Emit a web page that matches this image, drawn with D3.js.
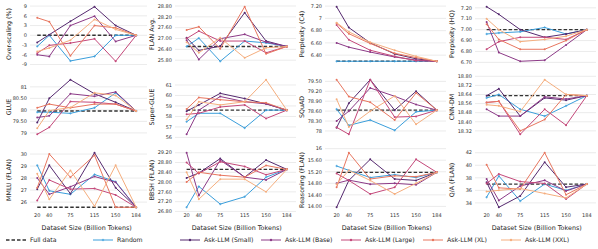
<!DOCTYPE html>
<html><head><meta charset="utf-8">
<script src="https://cdn.jsdelivr.net/npm/d3@7"></script>
<style>body{margin:0;background:#fff}svg{display:block;font-family:"DejaVu Sans",sans-serif}</style>
</head><body><svg id="c" width="598" height="249"></svg>
<script>
const sizes = [20, 40, 75, 115, 150, 184];
const metricLabels = ["Over-scaling (%)","FLAN Avg.","Perplexity (C4)","Perplexity (HQ)","GLUE","Super-GLUE","SQuAD","CNN-DM","MMLU (FLAN)","BBSH (FLAN)","Reasoning (FLAN)","Q/A (FLAN)"];
const tickLabels = [
  ["-9","-6","-3","0","3","6","9"],
  ["25.80","26.40","27.00","27.60","28.20","28.80"],
  ["6.20","6.40","6.60","6.80","7","7.20"],
  ["6.70","6.80","6.90","7.00","7.10","7.20"],
  ["79","79.50","80","80.50","81","81.50"],
  ["56","57","58","59","60","61"],
  ["77.70","78","78.30","78.60","78.90","79.20","79.50"],
  ["18.32","18.40","18.48","18.56","18.64","18.72","18.80"],
  ["26","27","28","29","30"],
  ["26.80","27.20","27.60","28.00","28.40","28.80","29.20"],
  ["14.00","14.40","14.80","15.20","15.60","16"],
  ["34","36","38","40","42"]
];
const xTickLabels = ["20","40","75","115","150","184"];
const seriesNames = ["Full data","Random","Ask-LLM (Small)","Ask-LLM (Base)","Ask-LLM (Large)","Ask-LLM (XL)","Ask-LLM (XXL)"];
const fullData = [0, 26.56, 6.30, 7.0, 79.95, 58.6, 78.63, 18.63, 25.57, 28.52, 15.18, 37.0];
const randomVals = [
  [-3.4, 0, -7.9, -6.5, 0, 0],
  [26.56, 27.02, 25.74, 26.86, 26.76, 26.56],
  [6.30, 6.30, 6.30, 6.30, 6.30, 6.30],
  [6.96, 6.97, 6.98, 7.02, 6.96, 7.0],
  [79.9, 79.9, 79.85, 80.09, 80.74, 79.95],
  [57.5, 58.3, 58.3, 56.9, 58.6, 58.6],
  [78.66, 78.17, 78.33, 78.02, 78.58, 78.63],
  [18.61, 18.64, 18.51, 18.45, 18.54, 18.63],
  [29.06, 26.94, 26.65, 28.3, 27.7, 25.57],
  [26.97, 27.82, 27.1, 27.4, 28.2, 28.52],
  [15.4, 15.25, 15.0, 15.1, 15.0, 15.18],
  [34.9, 38.3, 34.3, 37.0, 36.0, 37.0]
];
const smallVals = [
  [-2.2, 0.2, 4.3, 8.8, 3.0, 0],
  [27.04, 26.34, 26.58, 28.43, 26.86, 26.56],
  [7.19, 6.85, 6.60, 6.42, 6.34, 6.30],
  [7.21, 7.14, 7.0, 6.93, 6.96, 7.0],
  [79.45, 80.5, 81.31, 80.7, 80.33, 79.95],
  [58.5, 59.1, 60.2, 59.7, 59.2, 58.6],
  [78.1, 78.84, 79.55, 78.63, 79.2, 78.63],
  [18.63, 18.69, 18.45, 18.61, 18.59, 18.63],
  [27.08, 29.06, 26.7, 30.11, 27.2, 25.57],
  [28.17, 28.37, 28.96, 28.2, 28.9, 28.52],
  [13.97, 14.9, 15.63, 14.95, 14.9, 15.18],
  [37.3, 33.3, 35.1, 40.5, 36.5, 37.0]
];
const baseVals = [
  [-6, -6.5, 3, 5.9, -1.9, 0],
  [26.91, 25.84, 26.99, 27.23, 26.8, 26.56],
  [6.60, 6.53, 6.45, 6.37, 6.32, 6.30],
  [7.07, 6.79, 6.71, 6.72, 6.86, 7.0],
  [79.67, 79.74, 80.7, 80.59, 80.78, 79.95],
  [56.3, 58.6, 59.9, 59.4, 59.2, 58.6],
  [78.3, 78.6, 79.3, 79.05, 78.8, 78.63],
  [18.51, 18.45, 18.45, 18.62, 18.6, 18.63],
  [28.0, 26.65, 27.28, 28.13, 27.65, 25.57],
  [29.2, 27.45, 28.9, 28.2, 28.09, 28.52],
  [14.8, 14.91, 14.77, 14.8, 14.75, 15.18],
  [37.8, 34.4, 36.7, 37.6, 35.9, 37.0]
];
const largeVals = [
  [-5.5, -3.1, -2.4, -1.1, -8, 0],
  [27.0, 27.41, 26.86, 26.86, 26.21, 26.56],
  [6.89, 6.65, 6.48, 6.38, 6.31, 6.30],
  [6.82, 6.89, 6.93, 6.93, 6.91, 7.0],
  [78.94, 79.24, 80.36, 80.33, 80.25, 79.95],
  [58.2, 58.3, 58.9, 59.1, 57.8, 58.6],
  [78.11, 77.9, 79.55, 78.42, 78.44, 78.63],
  [18.57, 18.58, 18.29, 18.51, 18.37, 18.63],
  [26.14, 27.84, 27.08, 27.13, 26.6, 25.57],
  [28.8, 28.35, 28.83, 28.64, 28.3, 28.52],
  [15.14, 14.9, 14.43, 14.66, 15.63, 15.18],
  [37.1, 38.6, 37.4, 37.1, 34.6, 37.0]
];
const xlVals = [
  [5.4, 4.2, -6.3, 3, 2.3, 0],
  [27.47, 27.65, 26.43, 28.76, 26.15, 26.56],
  [6.92, 6.75, 6.59, 6.43, 6.36, 6.30],
  [7.05, 6.91, 6.82, 6.82, 6.9, 7.0],
  [80.09, 80.25, 80.09, 80.25, 80.25, 79.95],
  [58.7, 59.8, 59.6, 59.4, 59.3, 58.6],
  [79.55, 79.04, 78.87, 78.33, 79.15, 78.63],
  [18.57, 18.58, 18.32, 18.42, 18.64, 18.63],
  [27.2, 30.0, 28.07, 29.9, 25.57, 25.57],
  [28.0, 28.4, 28.28, 28.2, 28.68, 28.52],
  [14.66, 15.86, 14.95, 15.06, 15.03, 15.18],
  [40.1, 36.4, 36.2, 42, 35.3, 37.0]
];
const xxlVals = [
  [-5, -3.9, -1.5, 4.9, 1.8, 0],
  [26.8, 26.21, 27.04, 25.93, 26.49, 26.56],
  [6.93, 6.78, 6.61, 6.48, 6.38, 6.30],
  [7.1, 7.0, 6.89, 6.91, 6.94, 7.0],
  [79.2, 79.97, 80.1, 80.74, 80.63, 79.95],
  [57.7, 59.4, 59.1, 59.4, 61.5, 58.6],
  [78.96, 78.12, 78.6, 79.06, 78.2, 78.63],
  [18.55, 18.54, 18.49, 18.77, 18.64, 18.63],
  [28.35, 26.23, 28.64, 25.66, 29.06, 25.57],
  [28.4, 27.3, 28.12, 28.12, 27.6, 28.52],
  [14.77, 15.25, 14.9, 14.43, 14.8, 15.18],
  [35.8, 36.0, 36.3, 35.5, 34.8, 37.0]
];

// ---- styling / layout ----
const askColors = ["#55296f", "#8c3a87", "#c4487a", "#e8765f", "#f5ae7e"];
const randomColor = "#3a9edb";
const fullColor = "#333333";
const colLeft = [30, 175, 325, 475];
const colW = [117, 121, 121, 121];
const colXDomain = [[8, 202], [1, 199], [1, 199], [1, 199]];
const rowTop = [4, 77, 150];
const plotH = 60;

const svg = d3.select("#c");
const askSeries = [smallVals, baseVals, largeVals, xlVals, xxlVals];

for (let p = 0; p < 12; p++) {
  const r = Math.floor(p / 4), c = p % 4;
  const plotW = colW[c];
  const g = svg.append("g").attr("transform", `translate(${colLeft[c]},${rowTop[r]})`);
  const all = [fullData[p], ...randomVals[p], ...askSeries.flatMap(s => s[p])];
  const lo = d3.min(all), hi = d3.max(all), pad = (hi - lo) * 0.05;
  const y = d3.scaleLinear().domain([lo - pad, hi + pad]).range([plotH, 0]);
  const x = d3.scaleLinear().domain(colXDomain[c]).range([0, plotW]);
  const tol = (hi - lo) * 0.03;
  const ticks = tickLabels[p].map(t => ({v: +t, t})).filter(d => d.v >= lo - pad - tol && d.v <= hi + pad + tol);
  g.selectAll(".grid").data(ticks).join("line")
    .attr("x1", 0).attr("x2", plotW)
    .attr("y1", d => y(d.v)).attr("y2", d => y(d.v))
    .attr("stroke", "#e6e6e6").attr("stroke-width", 0.8);
  g.selectAll(".yt").data(ticks).join("text")
    .attr("x", -3).attr("y", d => y(d.v)).attr("dy", "0.35em")
    .attr("text-anchor", "end").attr("font-size", 5).attr("fill", "#333")
    .text(d => d.t);
  const ylx = c === 0 ? -19 : -21;
  g.append("text").attr("transform", `translate(${ylx},${plotH/2}) rotate(-90)`)
    .attr("text-anchor", "middle").attr("font-size", 6.3).attr("fill", "#222")
    .text(metricLabels[p]);
  if (r === 2) {
    g.selectAll(".xt").data(sizes).join("text")
      .attr("x", d => x(d)).attr("y", plotH + 7)
      .attr("text-anchor", "middle").attr("font-size", 5).attr("fill", "#333")
      .text((d, i) => xTickLabels[i]);
    g.append("text").attr("x", (x(sizes[0]) + x(sizes[5])) / 2).attr("y", plotH + 19.5)
      .attr("text-anchor", "middle").attr("font-size", 6.4).attr("fill", "#222")
      .text("Dataset Size (Billion Tokens)");
  }
  const line = d3.line().x((d, i) => x(sizes[i])).y(d => y(d));
  g.append("line").attr("x1", x(sizes[0])).attr("x2", x(sizes[5]))
    .attr("y1", y(fullData[p])).attr("y2", y(fullData[p]))
    .attr("stroke", fullColor).attr("stroke-width", 1.4).attr("stroke-dasharray", "3.5,2");
  g.append("path").attr("d", line(randomVals[p])).attr("fill", "none")
    .attr("stroke", randomColor).attr("stroke-width", 1);
  g.selectAll(".rm").data(randomVals[p]).join("path")
    .attr("d", (d, i) => { const px = x(sizes[i]), py = y(d); return `M${px-1.2},${py}H${px+1.2}M${px},${py-1.2}V${py+1.2}`; })
    .attr("stroke", randomColor).attr("stroke-width", 0.7);
  askSeries.forEach((s, k) => {
    g.append("path").attr("d", line(s[p])).attr("fill", "none")
      .attr("stroke", askColors[k]).attr("stroke-width", 1);
    g.selectAll(".m" + k).data(s[p]).join("circle")
      .attr("cx", (d, i) => x(sizes[i])).attr("cy", d => y(d)).attr("r", 1)
      .attr("fill", askColors[k]);
  });
}

const legX = [6, 93, 180, 261, 341, 423, 501];
const leg = svg.append("g").attr("transform", "translate(0,240)");
seriesNames.forEach((n, i) => {
  const g = leg.append("g").attr("transform", `translate(${legX[i]},0)`);
  if (i === 0) {
    g.append("line").attr("x1", 0).attr("x2", 20).attr("stroke", fullColor)
      .attr("stroke-width", 1.4).attr("stroke-dasharray", "3.5,2");
  } else {
    const col = i === 1 ? randomColor : askColors[i - 2];
    g.append("line").attr("x1", 0).attr("x2", 20).attr("stroke", col).attr("stroke-width", 1);
    if (i === 1) g.append("path").attr("d", "M8.8,0H11.2M10,-1.2V1.2").attr("stroke", col).attr("stroke-width", 0.7);
    else g.append("circle").attr("cx", 10).attr("r", 1.2).attr("fill", col);
  }
  g.append("text").attr("x", 24).attr("dy", "0.35em").attr("font-size", 6.2).attr("fill", "#222").text(n);
});
</script></body></html>
